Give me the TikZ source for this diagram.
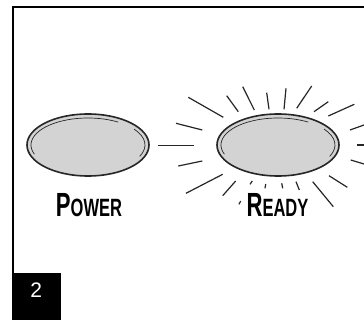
\documentclass[tikz,border=0pt]{standalone}
\usepackage{fontspec}
\setmainfont{Liberation Sans}
\usetikzlibrary{shapes.geometric}
\definecolor{btn}{HTML}{D3D3D3}
\newcommand{\capsmall}[2]{\scalebox{0.66}[1]{\fontsize{33.5}{34}\selectfont #1\fontsize{25}{26}\selectfont #2}}
\begin{document}
\begin{tikzpicture}[x=1pt,y=-1pt,
  btnshape/.style={ellipse,draw=black!85,line width=1.6pt,fill=btn,minimum width=122pt,minimum height=62pt,inner sep=0pt},
  ray/.style={line width=1.2pt,black!85,line cap=butt},
  labtext/.style={font=\bfseries,inner sep=0pt,anchor=base}]
\useasboundingbox (0,0) rectangle (364,320);
\fill[white] (0,0) rectangle (364,320);
% frame
\draw[line width=2pt] (12.5,320) -- (12.5,7) -- (364,7);
% buttons
\node[btnshape] (power) at (88,145) {};
\node[btnshape] (ready) at (278,145) {};
\foreach \b in {power,ready}{
  \draw[line width=0.7pt,black!85] (\b.center) ++(160:57 and 27) arc[start angle=160,end angle=302,x radius=57,y radius=27];
  \draw[line width=0.7pt,black!85] (\b.center) ++(324:57 and 27) arc[start angle=324,end angle=385,x radius=57,y radius=27];
}
% labels
\node[labtext] (plab) at (89,217) {\capsmall{P}{OWER}};
\node[labtext] (rlab) at (277.5,217) {\capsmall{R}{EADY}};
% rays
\foreach \xa/\ya/\xb/\yb in {
 188.3/97.3/223.3/117.3, 176/123.3/202.3/130, 158/145.5/194/145.5,
 178.3/166/202.3/161, 186/193.3/222.7/174.3,
 226.7/95.7/238.3/111.7, 242.7/86.7/254.3/110, 266.7/92.7/269/109.3,
 286/88.3/284/109.3, 311.7/86/296.7/108.3, 328.3/101.7/314/111.7,
 354.3/104.3/328.3/116, 364/125/350/130, 364/145/357.3/145, 364/164/350.7/160,
 222.7/195.7/235.7/181, 239/204.3/240.7/201, 250/184.3/252.3/181,
 265/188.3/265.7/184, 282.7/188.3/281.7/183.3, 299.3/190/296/181.7,
 333.3/206.7/312.7/181.7, 347.3/187.3/329/175.7}
  \draw[ray] (\xa,\ya) -- (\xb,\yb);
% step number
\node[fill=black,minimum width=49pt,minimum height=48pt,inner sep=0pt,anchor=north west] (num) at (11.5,273) {};
\node[text=white,font=\fontsize{21}{21}\selectfont,anchor=base,inner sep=0pt] (numtxt) at (num.center |- 0,298) {2};
\end{tikzpicture}
\end{document}
